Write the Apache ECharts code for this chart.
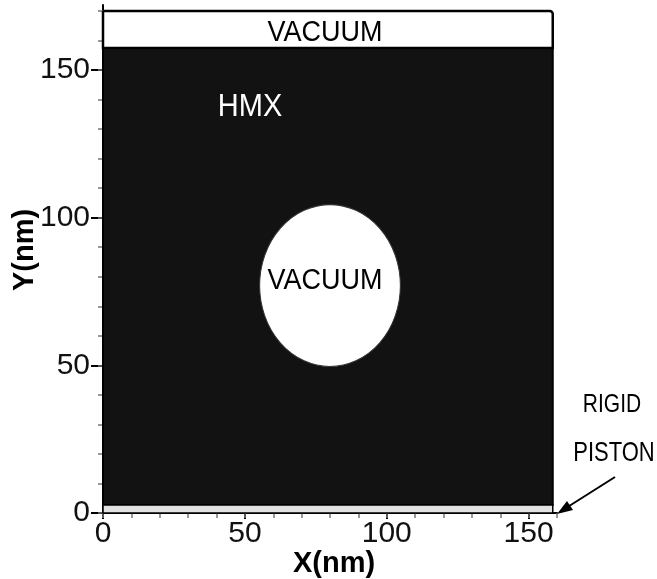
<!DOCTYPE html>
<html>
<head>
<meta charset="utf-8">
<script src="https://cdn.jsdelivr.net/npm/echarts@6/dist/echarts.min.js"></script>
<style>
html,body{margin:0;padding:0;background:#fff;}
#chart{width:657px;height:579px;}
</style>
</head>
<body>
<div id="chart"></div>
<script>
// ---- data (nm) ----
const regionNames = ['HMX', 'VACUUM', 'RIGID PISTON'];
const regionX0 = [0, 0, 0];
const regionX1 = [158.5, 158.5, 158.5];
const regionY0 = [2.7, 157.4, 0];
const regionY1 = [157.4, 170, 2.7];
const voidCenter = [80, 77];
const voidRadius = [24.8, 27.4];
const xTickLabels = [0, 50, 100, 150];
const yTickLabels = [0, 50, 100, 150];
const xMinorTicks = [0,10,20,30,40,50,60,70,80,90,100,110,120,130,140,150,160];
const yMinorTicks = [0,10,20,30,40,50,60,70,80,90,100,110,120,130,140,150,160,170];

// ---- styles ----
const FONT = "'Liberation Sans', Arial, Helvetica, sans-serif";
const regionStyle = {
  'HMX': {fill: '#121212', stroke: '#000', lineWidth: 2},
  'VACUUM': {fill: '#ffffff', stroke: '#000', lineWidth: 2.5},
  'RIGID PISTON': {fill: '#e2e2e2', stroke: '#000', lineWidth: 1.5}
};

const regionData = regionNames.map((n, i) => [regionX0[i], regionX1[i], regionY0[i], regionY1[i], i]);

const chart = echarts.init(document.getElementById('chart'), null, {renderer: 'canvas'});

const majorAxisCommon = {
  axisLine: {show: true, onZero: false, lineStyle: {color: '#000', width: 2}},
  splitLine: {show: false},
  axisLabel: {color: '#111', fontSize: 30, fontFamily: FONT},
  nameMoveOverlap: false,
  nameTextStyle: {color: '#000', fontSize: 29, fontWeight: 'bold', fontFamily: FONT}
};

const option = {
  backgroundColor: '#fff',
  animation: false,
  grid: {left: 103, right: 100, top: 5, bottom: 66, containLabel: false, outerBoundsMode: 'none'},
  xAxis: [
    Object.assign({}, majorAxisCommon, {
      type: 'value', position: 'bottom', min: 0, max: 160, interval: 50,
      name: 'X(nm)', nameLocation: 'middle', nameGap: 36,
      nameTextStyle: Object.assign({}, majorAxisCommon.nameTextStyle, {padding: [0, 0, 0, 8]}),
      axisTick: {show: true, length: 6, lineStyle: {color: '#000', width: 2}, customValues: xTickLabels},
      axisLabel: Object.assign({}, majorAxisCommon.axisLabel, {margin: 6, customValues: xTickLabels})
    }),
    {
      type: 'value', position: 'bottom', min: 0, max: 160, interval: 10,
      axisLine: {show: false, onZero: false}, splitLine: {show: false},
      axisLabel: {show: false},
      axisTick: {show: true, length: 5, lineStyle: {color: '#777', width: 1.5}, customValues: xMinorTicks}
    }
  ],
  yAxis: [
    Object.assign({}, majorAxisCommon, {
      type: 'value', position: 'left', min: 0, max: 172, interval: 50,
      name: 'Y(nm)', nameLocation: 'middle', nameGap: 64,
      nameTextStyle: Object.assign({}, majorAxisCommon.nameTextStyle, {padding: [0, 0, 0, 18]}),
      axisTick: {show: true, length: 12, lineStyle: {color: '#000', width: 2}, customValues: yTickLabels},
      axisLabel: Object.assign({}, majorAxisCommon.axisLabel, {margin: 13, customValues: yTickLabels})
    }),
    {
      type: 'value', position: 'left', min: 0, max: 172, interval: 10,
      axisLine: {show: false, onZero: false}, splitLine: {show: false},
      axisLabel: {show: false},
      axisTick: {show: true, length: 5, lineStyle: {color: '#777', width: 1.5}, customValues: yMinorTicks}
    }
  ],
  series: [
    {
      type: 'custom', name: 'regions', xAxisIndex: 0, yAxisIndex: 0,
      data: regionData,
      encode: {x: [0, 1], y: [2, 3]},
      renderItem: function (params, api) {
        const p0 = api.coord([api.value(0), api.value(3)]);
        const p1 = api.coord([api.value(1), api.value(2)]);
        const st = regionStyle[regionNames[api.value(4)]];
        return {
          type: 'rect',
          shape: {x: p0[0], y: p0[1], width: p1[0] - p0[0], height: p1[1] - p0[1], r: api.value(4) === 1 ? [0, 3, 0, 0] : 0},
          style: {fill: st.fill, stroke: st.stroke, lineWidth: st.lineWidth}
        };
      },
      z: 1
    },
    {
      type: 'custom', name: 'void', xAxisIndex: 0, yAxisIndex: 0,
      data: [[voidCenter[0], voidCenter[1], voidRadius[0], voidRadius[1]]],
      encode: {x: 0, y: 1},
      renderItem: function (params, api) {
        const c = api.coord([api.value(0), api.value(1)]);
        const s = api.size([api.value(2), api.value(3)]);
        return {
          type: 'circle',
          x: c[0], y: c[1],
          scaleX: 1, scaleY: s[1] / s[0],
          shape: {cx: 0, cy: 0, r: s[0]},
          style: {fill: '#ffffff', stroke: '#333', lineWidth: 1}
        };
      },
      z: 2
    }
  ],
  graphic: [
    {type: 'text', x: 325, y: 33, z: 10, scaleY: 1.1, style: {text: 'VACUUM', fill: '#000', font: '27px ' + FONT, align: 'center', verticalAlign: 'middle'}},
    {type: 'text', x: 250, y: 108, z: 10, scaleY: 1.05, style: {text: 'HMX', fill: '#fff', font: '29px ' + FONT, align: 'center', verticalAlign: 'middle'}},
    {type: 'text', x: 325, y: 281, z: 10, scaleY: 1.1, style: {text: 'VACUUM', fill: '#000', font: '27px ' + FONT, align: 'center', verticalAlign: 'middle'}},
    {type: 'text', x: 612, y: 405, z: 10, scaleY: 1.25, style: {text: 'RIGID', fill: '#000', font: '21px ' + FONT, align: 'center', verticalAlign: 'middle'}},
    {type: 'text', x: 614, y: 453, z: 10, scaleY: 1.25, style: {text: 'PISTON', fill: '#000', font: '22px ' + FONT, align: 'center', verticalAlign: 'middle'}},
    {type: 'line', z: 10, shape: {x1: 615, y1: 477, x2: 566, y2: 508}, style: {stroke: '#000', lineWidth: 2}},
    {type: 'polygon', z: 10, shape: {points: [[557, 514], [573, 510], [567, 501]]}, style: {fill: '#000'}}
  ]
};
chart.setOption(option);
</script>
</body>
</html>
